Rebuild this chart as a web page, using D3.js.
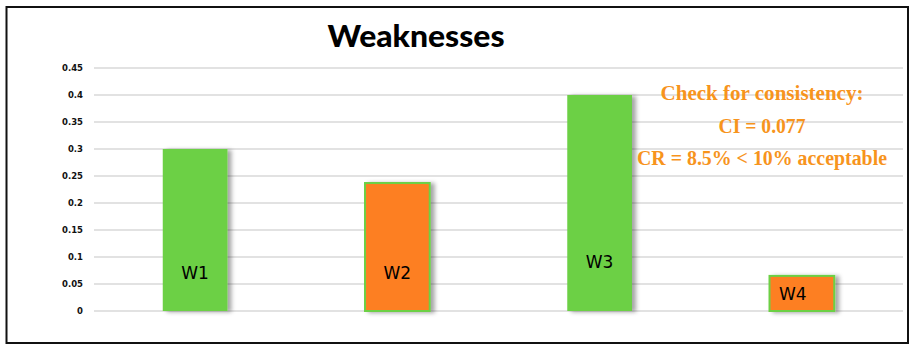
<!DOCTYPE html>
<html>
<head>
<meta charset="utf-8">
<script src="https://cdn.jsdelivr.net/npm/d3@7"></script>
<style>
  html, body { margin: 0; padding: 0; background: #fff; }
  svg { display: block; }
</style>
</head>
<body>
<svg id="chart" width="914" height="351"></svg>
<script>
const categories = ["W1", "W2", "W3", "W4"];
const values = [0.30, 0.237, 0.40, 0.065];
const barKinds = ["green", "orange", "green", "orange"];
const labelAt = [0.07, 0.07, 0.09, 0.032];
const yTicks = [0, 0.05, 0.1, 0.15, 0.2, 0.25, 0.3, 0.35, 0.4, 0.45];
const yTickLabels = ["0", "0.05", "0.1", "0.15", "0.2", "0.25", "0.3", "0.35", "0.4", "0.45"];
const title = "Weaknesses";
const noteLines = ["Check for consistency:", "CI = 0.077", "CR = 8.5% < 10% acceptable"];

const svg = d3.select("#chart");
const defs = svg.append("defs");
const f = defs.append("filter").attr("id", "shadow").attr("x", "-20%").attr("y", "-20%").attr("width", "150%").attr("height", "140%");
f.append("feDropShadow").attr("dx", 4).attr("dy", 1).attr("stdDeviation", 2.2).attr("flood-color", "#000").attr("flood-opacity", 0.35);

// frame
svg.append("rect").attr("x", 6.5).attr("y", 7).attr("width", 901.5).attr("height", 336)
  .attr("fill", "#fff").attr("stroke", "#111").attr("stroke-width", 2);

const x = d3.scaleBand().domain(categories).range([94, 903]).paddingInner(0.68).paddingOuter(0.34);
const y = d3.scaleLinear().domain([0, 0.45]).range([311, 68]);

// grid
svg.append("g").selectAll("line").data(yTicks).join("line")
  .attr("x1", 94).attr("x2", 903)
  .attr("y1", d => y(d)).attr("y2", d => y(d))
  .attr("stroke", "#d9d9d9").attr("stroke-width", 1.6);

// y axis labels
const yAxis = d3.axisLeft(y).tickValues(yTicks).tickSize(0).tickPadding(0)
  .tickFormat((d, i) => yTickLabels[i]);
const ya = svg.append("g").attr("transform", "translate(83,0)").call(yAxis);
ya.select(".domain").remove();
ya.selectAll("text").attr("font-family", "DejaVu Sans").attr("font-weight", "bold")
  .attr("font-size", 8.5).attr("fill", "#111").attr("dy", "0.35em");

// bars
const colors = { green: "#6cd045", orange: "#fd7f23" };
svg.append("g").selectAll("rect").data(categories).join("rect")
  .attr("x", d => x(d)).attr("width", x.bandwidth())
  .attr("y", (d, i) => y(values[i])).attr("height", (d, i) => y(0) - y(values[i]))
  .attr("fill", (d, i) => colors[barKinds[i]])
  .attr("stroke", (d, i) => barKinds[i] === "orange" ? "#6cd045" : "none")
  .attr("stroke-width", 2)
  .attr("filter", "url(#shadow)");

// bar labels
svg.append("g").selectAll("text").data(categories).join("text")
  .attr("x", (d, i) => x(d) + x.bandwidth() / 2 + (i === 3 ? -9 : 0))
  .attr("y", (d, i) => y(labelAt[i]))
  .attr("dy", "0.35em")
  .attr("text-anchor", "middle")
  .attr("font-family", "DejaVu Sans").attr("font-size", 17).attr("fill", "#000")
  .text(d => d);

// title
svg.append("text").attr("x", 416).attr("y", 47).attr("text-anchor", "middle")
  .attr("font-family", "Lato").attr("font-weight", 900).attr("font-size", 30)
  .attr("textLength", 177).attr("lengthAdjust", "spacingAndGlyphs")
  .attr("fill", "#000").text(title);

// note
const noteWidths = [203, 87, 250];
svg.append("g").selectAll("text").data(noteLines).join("text")
  .attr("x", 762).attr("y", (d, i) => 100 + i * 32.5)
  .attr("text-anchor", "middle")
  .attr("font-family", "Liberation Serif").attr("font-weight", "bold").attr("font-size", 20)
  .attr("textLength", (d, i) => noteWidths[i]).attr("lengthAdjust", "spacingAndGlyphs")
  .attr("fill", "#f7941d").text(d => d);
</script>
</body>
</html>
